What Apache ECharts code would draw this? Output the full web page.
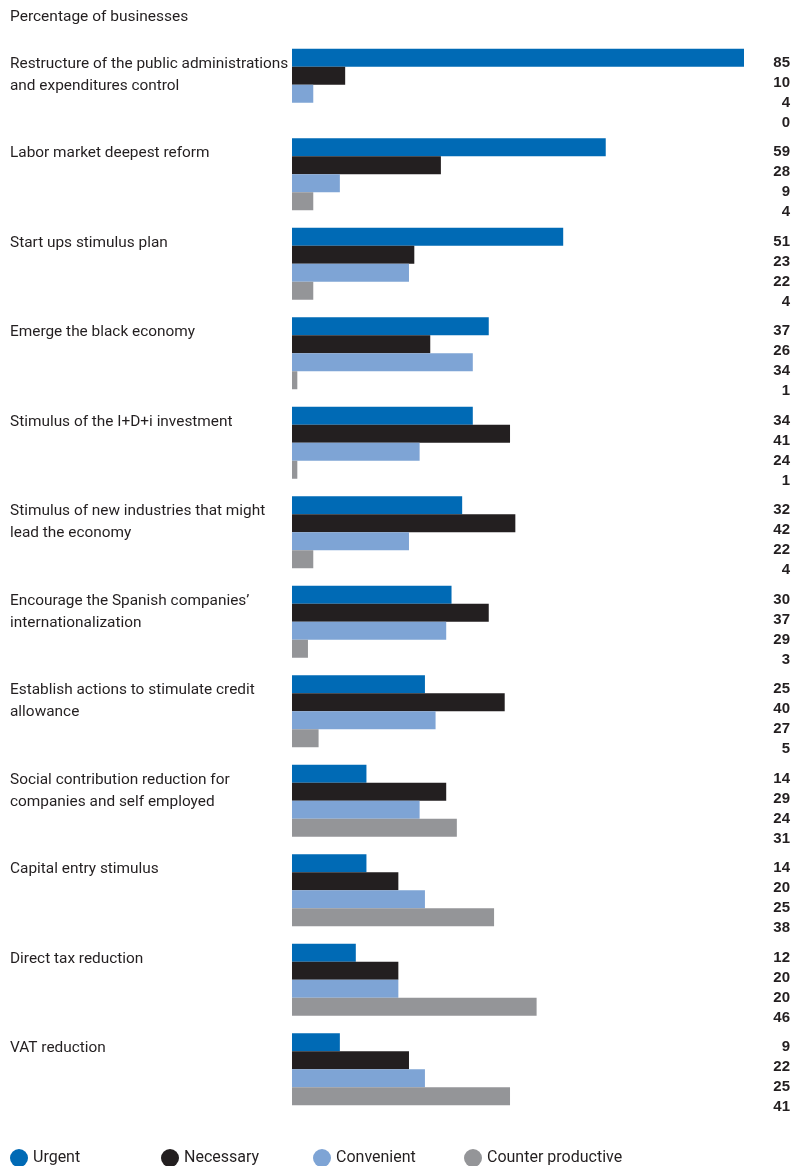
<!DOCTYPE html>
<html><head><meta charset="utf-8">
<script src="https://cdn.jsdelivr.net/npm/echarts@6/dist/echarts.min.js"></script>
<style>html,body{margin:0;padding:0;background:#fff}#c{width:805px;height:1166px}</style>
</head><body><div id="c"></div>
<script>
const categories = [
  "Restructure of the public administrations\nand expenditures control",
  "Labor market deepest reform",
  "Start ups stimulus plan",
  "Emerge the black economy",
  "Stimulus of the I+D+i investment",
  "Stimulus of new industries that might\nlead the economy",
  "Encourage the Spanish companies’\ninternationalization",
  "Establish actions to stimulate credit\nallowance",
  "Social contribution reduction for\ncompanies and self employed",
  "Capital entry stimulus",
  "Direct tax reduction",
  "VAT reduction"
];
const urgent      = [85, 59, 51, 37, 34, 32, 30, 25, 14, 14, 12, 9];
const necessary   = [10, 28, 23, 26, 41, 42, 37, 40, 29, 20, 20, 22];
const convenient  = [4, 9, 22, 34, 24, 22, 29, 27, 24, 25, 20, 25];
const counterProd = [0, 4, 4, 1, 1, 4, 3, 5, 31, 38, 46, 41];
const seriesNames = ["Urgent", "Necessary", "Convenient", "Counter productive"];
const colors = ["#006ab5", "#231f20", "#7ea4d5", "#949598"];
const subtitle = "Percentage of businesses";

const FONT = "'Liberation Sans Narrow', 'Roboto', sans-serif";
const allSeries = [urgent, necessary, convenient, counterProd];

const chart = echarts.init(document.getElementById('c'), null, {renderer: 'canvas'});
const legendX = [10, 161, 313, 464];
chart.setOption({
  animation: false,
  title: {
    text: subtitle, left: 10, top: 9, padding: 0,
    textStyle: {fontFamily: FONT, fontSize: 15.5, fontWeight: 'normal', color: '#231f20'}
  },
  legend: seriesNames.map((n, i) => ({
    data: [n], left: legendX[i], top: 1149, icon: 'circle', padding: 0,
    itemWidth: 18, itemHeight: 18, itemGap: 0,
    textStyle: {fontFamily: FONT, fontSize: 16, color: '#231f20'}
  })),
  grid: {left: 292, right: 61, top: 40, height: 1074},
  xAxis: {
    type: 'value', min: 0, max: 85, show: false
  },
  yAxis: [
    {
      type: 'category', data: categories, inverse: true,
      axisLine: {show: false}, axisTick: {show: false},
      axisLabel: {
        interval: 0, showMinLabel: true, showMaxLabel: true, hideOverlap: false,
        align: 'left', margin: 282, verticalAlign: 'middle',
        fontFamily: FONT, fontSize: 15.4, color: '#231f20', lineHeight: 22,
        rich: {
          sp: {fontSize: 1, lineHeight: 24, height: 24},
          t: {fontFamily: FONT, fontSize: 15.4, color: '#231f20', lineHeight: 22}
        },
        formatter: (v) => {
          const l = v.split('\n');
          while (l.length < 4) l.push(' ');
          return '{sp| }\n' + l.map(s => '{t|' + s + '}').join('\n');
        }
      }
    },
    {
      type: 'category', data: categories.map((c, i) => i), inverse: true, position: 'right',
      axisLine: {show: false}, axisTick: {show: false},
      axisLabel: {
        interval: 0, showMinLabel: true, showMaxLabel: true, hideOverlap: false,
        align: 'right', margin: 46, verticalAlign: 'middle',
        rich: {
          sp: {fontSize: 1, lineHeight: 16, height: 16},
          v: {fontFamily: "'Liberation Sans', 'Roboto', sans-serif", fontSize: 15, fontWeight: 'bold',
              color: '#231f20', lineHeight: 20, align: 'right'}
        },
        formatter: (v) => '{sp| }\n' + allSeries.map(s => '{v|' + s[+v] + '}').join('\n')
      }
    }
  ],
  series: allSeries.map((d, i) => ({
    name: seriesNames[i], type: 'bar', data: d, barWidth: 18, barGap: '0%',
    itemStyle: {color: colors[i]}, yAxisIndex: 0
  }))
});
</script></body></html>
